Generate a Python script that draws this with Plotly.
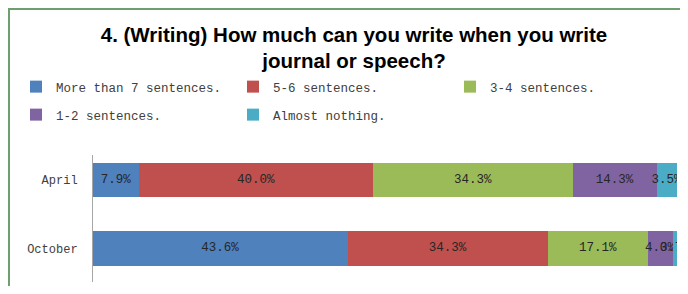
import plotly.graph_objects as go

categories = ["October", "April"]
series_names = ["More than 7 sentences.", "5-6 sentences.", "3-4 sentences.",
                "1-2 sentences.", "Almost nothing."]
april = [7.9, 40.0, 34.3, 14.3, 3.5]
october = [43.6, 34.3, 17.1, 4.3, 0.7]
colors = ["#4F81BD", "#C0504D", "#9BBB59", "#8064A2", "#4BACC6"]

# page body has an 8px margin, so the figure is offset by 8px
OFF = 8
W, H = 688 - 2 * OFF, 294 - 2 * OFF
mono = "Liberation Mono, DejaVu Sans Mono, monospace"

L, R, T, B = 93 - OFF, 677 - OFF, 155 - OFF, 282 - OFF
PW, PH = R - L, B - T

fig = go.Figure()
for i, name in enumerate(series_names):
    vals = [october[i], april[i]]
    fig.add_trace(go.Bar(
        y=categories, x=vals, name=name, orientation="h",
        marker=dict(color=colors[i], line=dict(width=0)),
        text=[f"{v:.1f}%" for v in vals],
        textposition="inside", insidetextanchor="middle",
        constraintext="none", textangle=0,
        textfont=dict(family=mono, size=12.5, color="#262626"),
        width=0.51,
        legend="legend" if i < 3 else "legend2",
        hoverinfo="skip",
    ))

legend_common = dict(
    orientation="h", xref="paper", yref="paper",
    xanchor="left", yanchor="middle",
    font=dict(family=mono, size=12.5, color="#404040"),
    entrywidth=172, entrywidthmode="pixels",
    bgcolor="rgba(0,0,0,0)", borderwidth=0, traceorder="normal",
    itemclick=False, itemdoubleclick=False,
)
LEG_X = (8 - L) / PW

fig.update_layout(
    width=W, height=H,
    margin=dict(l=L, r=W - R, t=T, b=H - B),
    paper_bgcolor="white", plot_bgcolor="white",
    barmode="stack",
    showlegend=True,
    title=dict(
        text="4. (Writing) How much can you write when you write<br>journal or speech?",
        x=(354 - OFF) / W, xanchor="center", xref="container",
        y=1 - 33.5 / H, yanchor="top",
        font=dict(family="Liberation Sans, Arial, sans-serif",
                  size=20.5, color="#000000", weight="bold"),
    ),
    legend=dict(x=LEG_X, y=(B - (87 - OFF)) / PH, **legend_common),
    legend2=dict(x=LEG_X, y=(B - (115 - OFF)) / PH, **legend_common),
    xaxis=dict(range=[0, 100], visible=False, showgrid=False, zeroline=False, fixedrange=True),
    yaxis=dict(
        categoryorder="array", categoryarray=categories,
        range=[-0.49, 1.365],
        showline=True, linecolor="#a6a6a6", linewidth=1,
        showgrid=False, zeroline=False, ticks="",
        ticklabelstandoff=12,
        tickfont=dict(family=mono, size=12, color="#404040"),
        fixedrange=True,
    ),
    shapes=[dict(
        type="rect", xref="paper", yref="paper",
        x0=(9 - OFF - L) / PW, x1=1.2, y0=-0.3, y1=(B - (8 - OFF) - 1) / PH,
        line=dict(color="#6f9f6f", width=2), fillcolor="rgba(0,0,0,0)", layer="above",
    )],
)

fig.write_html("out.html")
